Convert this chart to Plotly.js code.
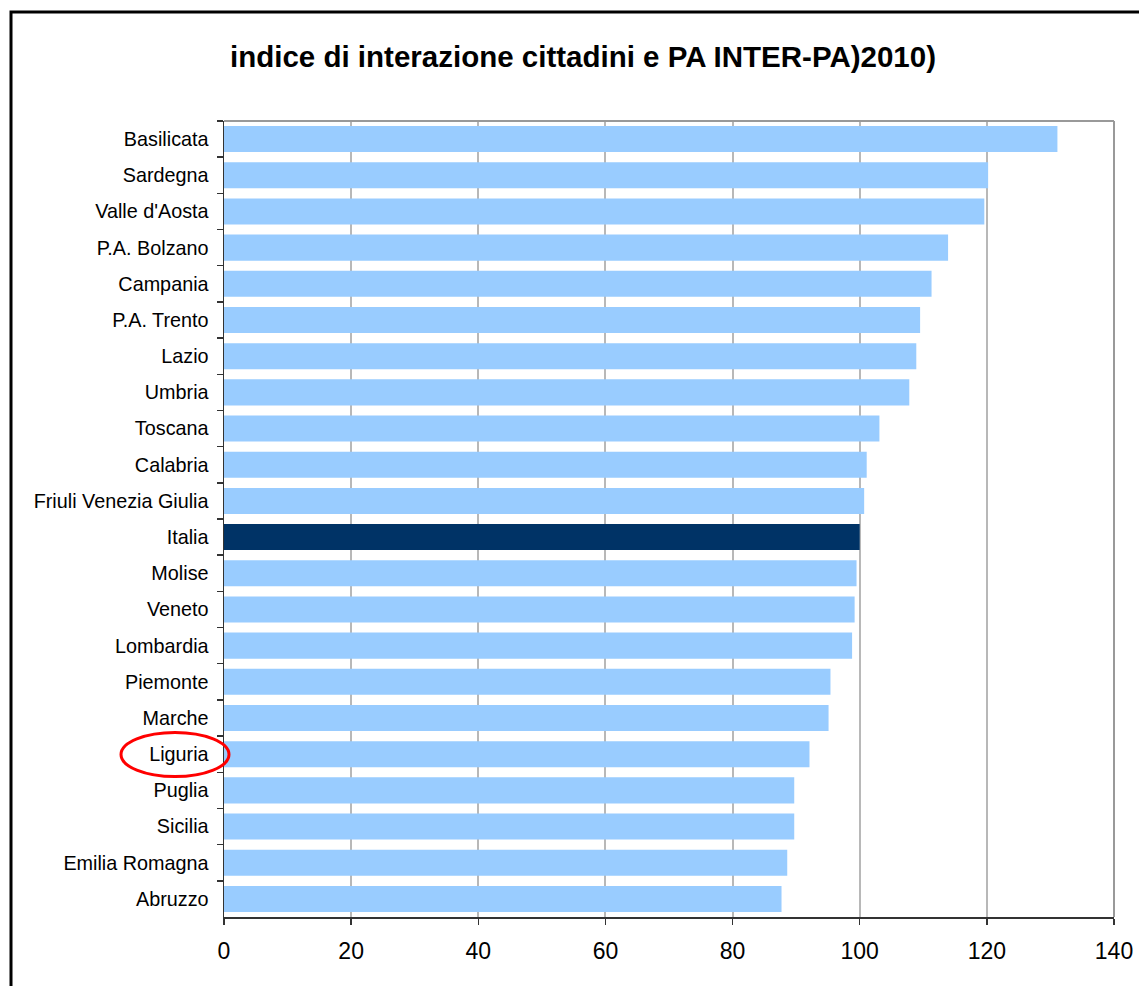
<!DOCTYPE html>
<html>
<head>
<meta charset="utf-8">
<script src="https://cdn.plot.ly/plotly-3.0.1.min.js"></script>
<style>
  html, body { margin: 0; padding: 0; background: #fff; }
  #chart { width: 1139px; height: 986px; }
</style>
</head>
<body>
<div id="chart"></div>
<script>
const regions = [
  "Basilicata", "Sardegna", "Valle d'Aosta", "P.A. Bolzano", "Campania",
  "P.A. Trento", "Lazio", "Umbria", "Toscana", "Calabria",
  "Friuli Venezia Giulia", "Italia", "Molise", "Veneto", "Lombardia",
  "Piemonte", "Marche", "Liguria", "Puglia", "Sicilia",
  "Emilia Romagna", "Abruzzo"
];
const values = [
  131.1, 120.2, 119.6, 113.9, 111.3,
  109.5, 108.9, 107.8, 103.1, 101.1,
  100.7, 100.0, 99.5, 99.2, 98.8,
  95.4, 95.1, 92.1, 89.7, 89.7,
  88.6, 87.7
];
const xTicks = [0, 20, 40, 60, 80, 100, 120, 140];
const titleText = "indice di interazione cittadini e PA INTER-PA)2010)";
const highlight = "Italia";
const highlightLabel = "Liguria";

const barColors = regions.map(r => r === highlight ? "#003366" : "#99CCFF");

const font = "Liberation Sans, Arial, sans-serif";

const trace = {
  type: "bar",
  orientation: "h",
  x: values,
  y: regions,
  marker: { color: barColors, line: { width: 0 } },
  hoverinfo: "x+y"
};

const W = 1139, H = 986;
const mL = 224, mR = 25, mT = 121, mB = 69;
const pw = W - mL - mR, ph = H - mT - mB;
const px = v => (v - mL) / pw;
const py = v => (H - mB - v) / ph;

const layout = {
  width: W, height: H,
  margin: { l: mL, r: mR, t: mT, b: mB, pad: 0 },
  paper_bgcolor: "#ffffff",
  plot_bgcolor: "#ffffff",
  font: { family: font, color: "#000" },
  showlegend: false,
  bargap: 0.28,
  title: {
    text: "<b>" + titleText + "</b>",
    font: { family: font, size: 29.5, color: "#000" },
    x: 583 / W, xref: "container", xanchor: "center",
    y: 1 - 57 / H, yref: "container", yanchor: "middle"
  },
  xaxis: {
    range: [0, 140],
    tickvals: xTicks,
    ticktext: xTicks.map(String),
    ticks: "outside", ticklen: 6, tickwidth: 1.5, tickcolor: "#333",
    tickfont: { family: font, size: 23, color: "#000" },
    ticklabelstandoff: 7,
    showgrid: true, gridcolor: "#b8b8b8", gridwidth: 2,
    showline: true, linecolor: "#333", linewidth: 1.5,
    zeroline: false, fixedrange: true
  },
  yaxis: {
    type: "category",
    categoryorder: "array", categoryarray: regions,
    autorange: "reversed",
    ticks: "outside", ticklen: 6, tickwidth: 1.5, tickcolor: "#333",
    tickson: "boundaries",
    tickfont: { family: font, size: 19.8, color: "#000" },
    ticklabelstandoff: 10,
    showgrid: false,
    showline: true, linecolor: "#333", linewidth: 1.5,
    zeroline: false, fixedrange: true
  },
  shapes: [
    { type: "line", xref: "paper", yref: "paper", x0: 0, x1: 1, y0: 1, y1: 1,
      line: { color: "#999", width: 2 }, layer: "above" },
    { type: "line", xref: "paper", yref: "paper", x0: 1, x1: 1, y0: 0, y1: 1,
      line: { color: "#999", width: 2 }, layer: "above" },
    { type: "rect", xref: "paper", yref: "paper",
      x0: px(11), x1: px(1150), y0: py(1000), y1: py(12),
      line: { color: "#000", width: 3 }, fillcolor: "rgba(0,0,0,0)", layer: "above" },
    { type: "circle", xref: "paper", yref: "y",
      x0: px(121), x1: px(229),
      y0: regions.indexOf(highlightLabel) - 0.6, y1: regions.indexOf(highlightLabel) + 0.62,
      line: { color: "#ff0000", width: 3 }, fillcolor: "rgba(0,0,0,0)", layer: "above" }
  ]
};

Plotly.newPlot("chart", [trace], layout, { displayModeBar: false, staticPlot: true });
</script>
</body>
</html>
